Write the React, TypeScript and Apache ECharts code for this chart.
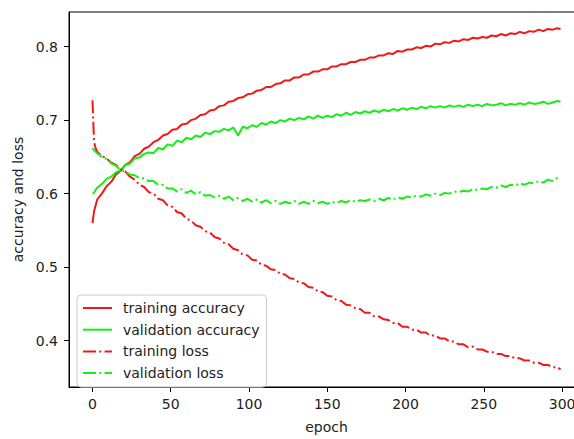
import React, { useEffect, useRef } from "react";
import * as echarts from "echarts";

const epochs = [
  0, 1, 2, 3, 6, 9, 12, 15, 18, 21,
  24, 27, 30, 33, 36, 39, 42, 45, 48, 51,
  54, 57, 60, 63, 66, 69, 72, 75, 78, 81,
  84, 87, 90, 93, 96, 99, 102, 105, 108, 111,
  114, 117, 120, 123, 126, 129, 132, 135, 138, 141,
  144, 147, 150, 153, 156, 159, 162, 165, 168, 171,
  174, 177, 180, 183, 186, 189, 192, 195, 198, 201,
  204, 207, 210, 213, 216, 219, 222, 225, 228, 231,
  234, 237, 240, 243, 246, 249, 252, 255, 258, 261,
  264, 267, 270, 273, 276, 279, 282, 285, 288, 291,
  294, 297, 299,
];

const trainingAccuracy = [
  0.560, 0.576, 0.584, 0.592, 0.600, 0.610, 0.616, 0.626, 0.631, 0.639,
  0.643, 0.651, 0.654, 0.661, 0.664, 0.670, 0.673, 0.679, 0.681, 0.687,
  0.688, 0.694, 0.695, 0.700, 0.702, 0.707, 0.708, 0.713, 0.714, 0.719,
  0.720, 0.725, 0.726, 0.730, 0.731, 0.735, 0.736, 0.740, 0.741, 0.745,
  0.745, 0.749, 0.750, 0.754, 0.754, 0.758, 0.758, 0.762, 0.762, 0.766,
  0.766, 0.769, 0.769, 0.773, 0.773, 0.776, 0.776, 0.779, 0.779, 0.782,
  0.782, 0.785, 0.785, 0.788, 0.788, 0.791, 0.790, 0.794, 0.793, 0.796,
  0.796, 0.799, 0.798, 0.801, 0.800, 0.804, 0.803, 0.806, 0.805, 0.808,
  0.807, 0.810, 0.809, 0.812, 0.811, 0.813, 0.812, 0.815, 0.814, 0.817,
  0.815, 0.818, 0.817, 0.820, 0.818, 0.821, 0.820, 0.823, 0.821, 0.824,
  0.823, 0.825, 0.824,
];

const validationAccuracy = [
  0.600, 0.601, 0.605, 0.608, 0.613, 0.620, 0.623, 0.629, 0.632, 0.639,
  0.641, 0.648, 0.649, 0.654, 0.656, 0.655, 0.662, 0.660, 0.667, 0.665,
  0.672, 0.670, 0.676, 0.674, 0.679, 0.677, 0.683, 0.681, 0.685, 0.684,
  0.688, 0.686, 0.690, 0.679, 0.691, 0.689, 0.693, 0.691, 0.696, 0.694,
  0.698, 0.696, 0.700, 0.698, 0.702, 0.700, 0.703, 0.701, 0.705, 0.702,
  0.706, 0.703, 0.706, 0.704, 0.708, 0.706, 0.710, 0.707, 0.711, 0.709,
  0.712, 0.710, 0.713, 0.711, 0.714, 0.712, 0.715, 0.713, 0.716, 0.714,
  0.717, 0.715, 0.718, 0.716, 0.719, 0.717, 0.719, 0.717, 0.720, 0.718,
  0.720, 0.718, 0.721, 0.719, 0.721, 0.719, 0.722, 0.720, 0.721, 0.723,
  0.720, 0.722, 0.721, 0.723, 0.721, 0.724, 0.722, 0.723, 0.725, 0.722,
  0.724, 0.726, 0.725,
];

const trainingLoss = [
  0.727, 0.670, 0.662, 0.657, 0.651, 0.648, 0.642, 0.639, 0.633, 0.630,
  0.623, 0.619, 0.612, 0.609, 0.602, 0.600, 0.593, 0.591, 0.584, 0.582,
  0.575, 0.573, 0.566, 0.563, 0.557, 0.555, 0.549, 0.547, 0.541, 0.539,
  0.533, 0.531, 0.525, 0.523, 0.517, 0.516, 0.510, 0.509, 0.503, 0.502,
  0.497, 0.496, 0.491, 0.490, 0.485, 0.484, 0.479, 0.478, 0.473, 0.472,
  0.467, 0.466, 0.461, 0.460, 0.455, 0.454, 0.449, 0.448, 0.444, 0.443,
  0.438, 0.438, 0.433, 0.433, 0.429, 0.428, 0.424, 0.424, 0.419, 0.419,
  0.415, 0.415, 0.411, 0.411, 0.407, 0.407, 0.403, 0.403, 0.399, 0.399,
  0.395, 0.395, 0.391, 0.392, 0.388, 0.388, 0.385, 0.385, 0.382, 0.382,
  0.379, 0.379, 0.376, 0.376, 0.373, 0.373, 0.370, 0.370, 0.367, 0.367,
  0.364, 0.364, 0.361,
];

const validationLoss = [
  0.662, 0.659, 0.657, 0.655, 0.650, 0.647, 0.641, 0.638, 0.632, 0.630,
  0.626, 0.625, 0.621, 0.621, 0.617, 0.617, 0.612, 0.612, 0.607, 0.607,
  0.603, 0.606, 0.601, 0.604, 0.599, 0.602, 0.597, 0.598, 0.595, 0.597,
  0.593, 0.596, 0.591, 0.594, 0.590, 0.593, 0.589, 0.592, 0.588, 0.591,
  0.587, 0.590, 0.586, 0.589, 0.587, 0.590, 0.586, 0.589, 0.586, 0.590,
  0.587, 0.589, 0.586, 0.589, 0.587, 0.590, 0.588, 0.591, 0.589, 0.591,
  0.590, 0.592, 0.590, 0.593, 0.591, 0.594, 0.592, 0.595, 0.593, 0.596,
  0.595, 0.597, 0.596, 0.599, 0.597, 0.600, 0.598, 0.601, 0.600, 0.603,
  0.602, 0.604, 0.603, 0.606, 0.605, 0.607, 0.606, 0.609, 0.608, 0.611,
  0.609, 0.612, 0.611, 0.614, 0.612, 0.615, 0.614, 0.617, 0.615, 0.619,
  0.617, 0.621, 0.619,
];

const xTicks = [0, 50, 100, 150, 200, 250, 300];
const yTicks = [0.4, 0.5, 0.6, 0.7, 0.8];

const RED = "#ee1a1a";
const GREEN = "#16ee16";
const DASHDOT = [13, 3.3, 2, 3.3];
const FONT = "DejaVu Sans";
const TEXT = "#222222";

export default function App() {
  const ref = useRef<HTMLDivElement>(null);

  useEffect(() => {
    if (!ref.current) return;
    const chart = echarts.init(ref.current, null, { renderer: "svg" });
    const pairs = (vals: number[]) => epochs.map((e, i) => [e, vals[i]]);
    const mk = (name: string, vals: number[], color: string, dashed: boolean) => ({
      name,
      type: "line",
      data: pairs(vals),
      symbol: "none",
      showSymbol: false,
      lineStyle: { color, width: 2, type: dashed ? DASHDOT : "solid" },
      itemStyle: { color },
      emphasis: { disabled: true },
      silent: true,
    });
    chart.setOption({
      animation: false,
      backgroundColor: "#ffffff",
      textStyle: { fontFamily: FONT },
      grid: {
        left: 69,
        top: 12,
        right: 0,
        bottom: 45,
        show: true,
        borderColor: "#000000",
        borderWidth: 1,
        backgroundColor: "transparent",
        containLabel: false,
      },
      xAxis: {
        type: "value",
        min: -15,
        max: 314,
        name: "epoch",
        nameLocation: "middle",
        nameGap: 33,
        nameTextStyle: { fontSize: 14, color: TEXT, fontFamily: FONT },
        axisLine: { show: true, onZero: false, lineStyle: { color: "#000", width: 1 } },
        axisTick: {
          show: true,
          inside: false,
          length: 5,
          customValues: xTicks,
          lineStyle: { color: "#000", width: 1 },
        },
        axisLabel: {
          show: true,
          customValues: xTicks,
          margin: 10,
          fontSize: 14,
          color: TEXT,
          fontFamily: FONT,
        },
        splitLine: { show: false },
      },
      yAxis: {
        type: "value",
        min: 0.337,
        max: 0.847,
        name: "accuracy and loss",
        nameLocation: "middle",
        nameRotate: 90,
        nameGap: 33,
        nameTextStyle: { fontSize: 14, color: TEXT, fontFamily: FONT },
        axisLine: { show: true, onZero: false, lineStyle: { color: "#000", width: 1 } },
        axisTick: {
          show: true,
          inside: false,
          length: 5,
          customValues: yTicks,
          lineStyle: { color: "#000", width: 1 },
        },
        axisLabel: {
          show: true,
          customValues: yTicks,
          margin: 11,
          fontSize: 14,
          color: TEXT,
          fontFamily: FONT,
          formatter: (v: number) => v.toFixed(1),
        },
        splitLine: { show: false },
      },
      legend: {
        show: true,
        orient: "vertical",
        left: 77,
        top: 295,
        itemWidth: 29,
        itemHeight: 14,
        itemGap: 7.7,
        padding: [6, 7, 7, 5],
        backgroundColor: "rgba(255,255,255,0.8)",
        borderColor: "#cccccc",
        borderWidth: 1,
        borderRadius: 4,
        selectedMode: false,
        itemStyle: { opacity: 0 },
        textStyle: {
          fontSize: 14,
          color: TEXT,
          fontFamily: FONT,
          padding: [0, 0, 0, 6],
        },
        data: ["training accuracy", "validation accuracy", "training loss", "validation loss"],
      },
      series: [
        mk("training accuracy", trainingAccuracy, RED, false),
        mk("validation accuracy", validationAccuracy, GREEN, false),
        mk("training loss", trainingLoss, RED, true),
        mk("validation loss", validationLoss, GREEN, true),
      ],
    });
    return () => chart.dispose();
  }, []);

  return (
    <div style={{ position: "fixed", left: 0, top: 0, width: 574, height: 439, overflow: "hidden", background: "#fff" }}>
      <div ref={ref} style={{ width: 584, height: 439 }} />
    </div>
  );
}
